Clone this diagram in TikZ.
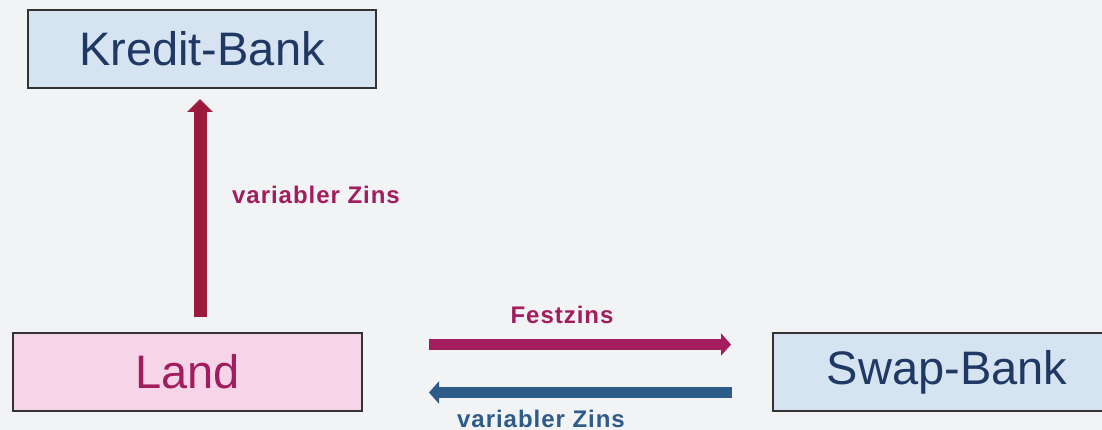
\documentclass[tikz,border=0pt]{standalone}
\usepackage{fontspec}
\setmainfont{Liberation Sans}
\newfontfamily\labelfont[LetterSpace=4]{Liberation Sans}
\usetikzlibrary{arrows.meta}
\definecolor{bgcol}{HTML}{F2F3F5}
\definecolor{bankfill}{HTML}{D6E4F1}
\definecolor{landfill}{HTML}{F5D5E7}
\definecolor{navy}{HTML}{1F3864}
\definecolor{magenta}{HTML}{A21C5E}
\definecolor{crimson}{HTML}{9E1A3C}
\definecolor{steel}{HTML}{2D5B8A}
\definecolor{frame}{HTML}{333333}
\tikzset{
  party/.style={draw=frame, line width=1.5pt, rectangle, inner sep=0pt,
    minimum height=78pt, font=\fontsize{47}{50}\selectfont},
  flowlabel/.style={font=\labelfont\fontsize{24}{26}\selectfont\bfseries, inner sep=0pt}
}
\begin{document}
\begin{tikzpicture}[x=1pt,y=-1pt]
  \useasboundingbox (0,0) rectangle (1102,430);
  \fill[bgcol] (0,0) rectangle (1102,430);
  \clip (0,0) rectangle (1102,430);

  % parties
  \node[party, fill=bankfill, text=navy, minimum width=348pt] (kredit) at (202,49) {Kredit-Bank};
  \node[party, fill=landfill, text=magenta, minimum width=349pt] (land) at (187.5,372) {Land};
  \node[party, fill=bankfill, text=navy, minimum width=348pt] (swap) at (947,372) {Swap-Bank};

  % arrow end points
  \coordinate (vfrom) at (200,317);
  \coordinate (vto) at (200,99);
  \coordinate (ffrom) at (429,344.5);
  \coordinate (fto) at (731,344.5);
  \coordinate (bfrom) at (732,392.5);
  \coordinate (bto) at (429,392.5);

  % interest flows
  \draw[crimson, line width=13pt, -{Triangle[length=13pt,width=25pt]}] (vfrom) -- (vto);
  \draw[magenta, line width=11pt, -{Triangle[length=10pt,width=22pt]}] (ffrom) -- (fto);
  \draw[steel, line width=11pt, -{Triangle[length=10pt,width=22pt]}] (bfrom) -- (bto);

  % labels
  \node[flowlabel, text=magenta, anchor=west] (lvar) at (232,195) {variabler Zins};
  \node[flowlabel, text=magenta] (lfest) at (562,315) {Festzins};
  \node[flowlabel, text=steel, anchor=base] (lvar2) at (541,427.5) {variabler Zins};
\end{tikzpicture}
\end{document}
